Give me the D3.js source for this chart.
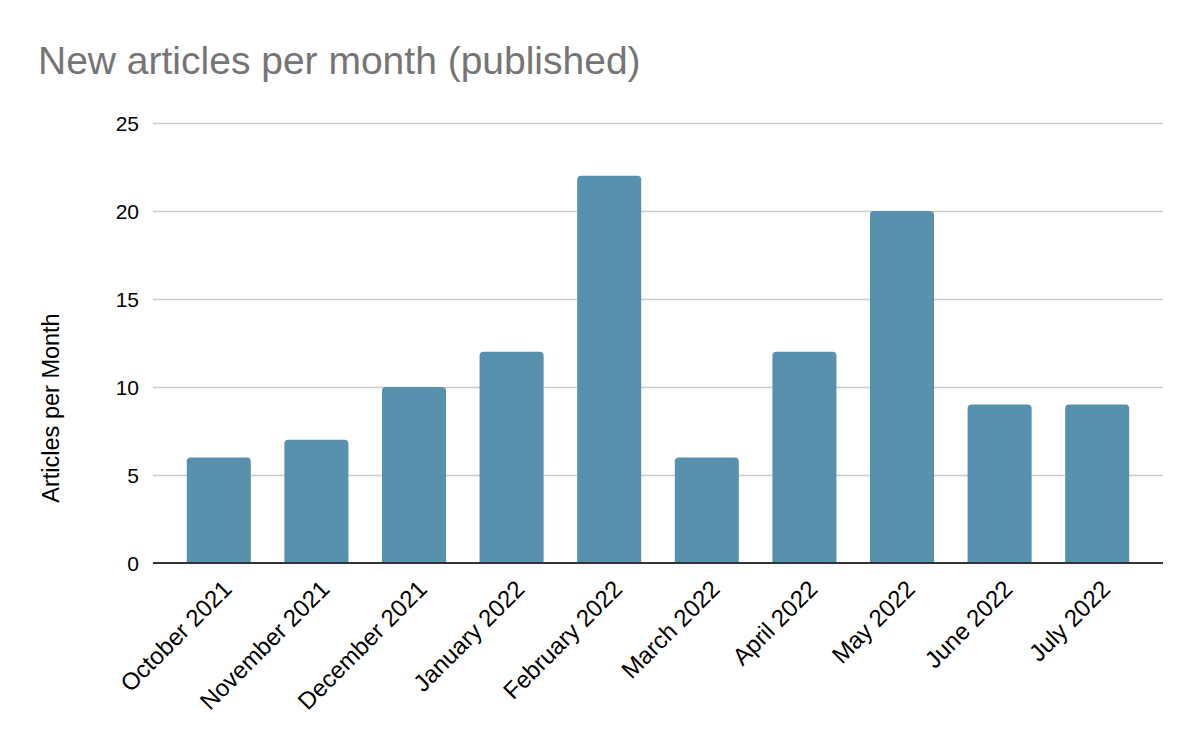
<!DOCTYPE html>
<html>
<head>
<meta charset="utf-8">
<script src="https://cdn.jsdelivr.net/npm/d3@7"></script>
<style>
  html, body { margin: 0; padding: 0; background: #fff; }
  svg { display: block; font-family: "Liberation Sans", Arial, sans-serif; }
</style>
</head>
<body>
<svg id="chart" width="1200" height="742"></svg>
<script>
const categories = ["October 2021", "November 2021", "December 2021", "January 2022", "February 2022",
                    "March 2022", "April 2022", "May 2022", "June 2022", "July 2022"];
const values = [6, 7, 10, 12, 22, 6, 12, 20, 9, 9];
const yTicks = [0, 5, 10, 15, 20, 25];
const titleText = "New articles per month (published)";
const yTitle = "Articles per Month";

const svg = d3.select("#chart");
const plotLeft = 153, plotRight = 1163, plotTop = 123, plotBottom = 563;

const x = d3.scaleBand().domain(categories).range([plotLeft, plotRight]).paddingInner(0.344).paddingOuter(0.346);
const y = d3.scaleLinear().domain([0, 25]).range([plotBottom, plotTop]);

// title
svg.append("text").attr("x", 38).attr("y", 74)
  .attr("font-size", 39).attr("fill", "#757575").text(titleText);

// gridlines
svg.append("g").selectAll("line").data(yTicks.filter(d => d !== 0)).join("line")
  .attr("x1", plotLeft).attr("x2", plotRight)
  .attr("y1", d => Math.round(y(d)) + 0.5).attr("y2", d => Math.round(y(d)) + 0.5)
  .attr("stroke", "#cccccc").attr("stroke-width", 1.3);

// y tick labels
const yAxis = d3.axisLeft(y).tickValues(yTicks).tickSize(0).tickPadding(0);
const yg = svg.append("g").attr("transform", `translate(${plotLeft - 14},0)`).call(yAxis);
yg.select(".domain").remove();
yg.selectAll("text").attr("font-size", 21).attr("fill", "#000")
  .attr("font-family", "'Liberation Sans', Arial, sans-serif").attr("dy", "0.35em");

// bars with rounded tops
const r = 4;
function barPath(d, i) {
  const x0 = x(categories[i]), w = x.bandwidth();
  const y0 = y(d), y1 = y(0);
  return `M${x0},${y1} L${x0},${y0 + r} Q${x0},${y0} ${x0 + r},${y0} L${x0 + w - r},${y0} Q${x0 + w},${y0} ${x0 + w},${y0 + r} L${x0 + w},${y1} Z`;
}
svg.append("g").selectAll("path").data(values).join("path")
  .attr("d", (d, i) => barPath(d, i))
  .attr("fill", "#5891ae");

// baseline
svg.append("line").attr("x1", plotLeft).attr("x2", plotRight)
  .attr("y1", y(0)).attr("y2", y(0))
  .attr("stroke", "#333333").attr("stroke-width", 2);

// x labels
const xAxis = d3.axisBottom(x).tickSize(0).tickPadding(0);
const xg = svg.append("g").attr("transform", `translate(0,${plotBottom})`).call(xAxis);
xg.select(".domain").remove();
xg.selectAll("text")
  .attr("font-size", 24).attr("fill", "#000")
  .attr("font-family", "'Liberation Sans', Arial, sans-serif")
  .attr("text-anchor", "end")
  .attr("dy", null).attr("y", 0)
  .attr("transform", "translate(2,15) rotate(-45)")
  .attr("dominant-baseline", "hanging");

// y title
svg.append("text")
  .attr("transform", "translate(59,408) rotate(-90)")
  .attr("text-anchor", "middle")
  .attr("font-size", 23.5).attr("fill", "#000")
  .text(yTitle);
</script>
</body>
</html>
